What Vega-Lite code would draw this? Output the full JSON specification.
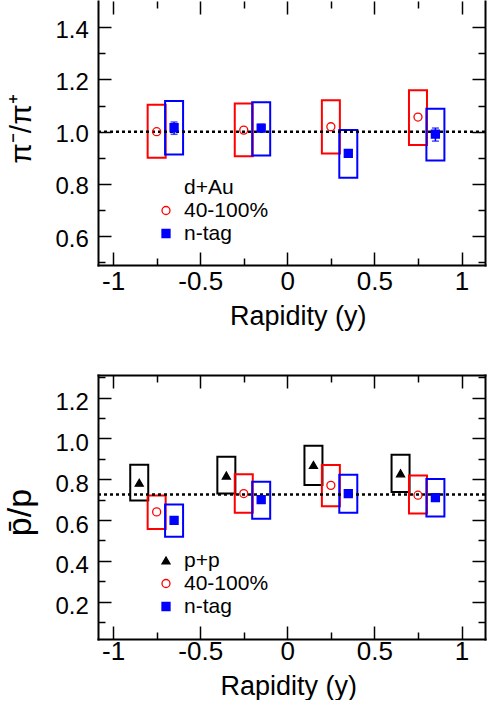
{
  "$schema": "https://vega.github.io/schema/vega-lite/v6.json",
  "padding": {"left": 3, "top": 0, "right": 0, "bottom": 0},
  "autosize": {"type": "pad"},
  "config": {
    "font": "Liberation Sans",
    "view": {"stroke": null},
    "axis": {
      "grid": false,
      "domainColor": "#000000",
      "domainWidth": 2,
      "domainCap": "square",
      "tickColor": "#000000",
      "tickWidth": 1.5,
      "labelColor": "#000000",
      "titleColor": "#000000",
      "titleFontWeight": "normal",
      "labelFlush": false,
      "labelOverlap": false
    },
    "legend": {
      "orient": "none", "labelFontSize": 21, "labelColor": "#000000", "labelFont": "Liberation Sans",
      "symbolSize": 64, "symbolStrokeWidth": 1.3, "labelOffset": 7.5, "rowPadding": 1, "padding": 0
    }
  },
  "datasets": {
    "pi": [
      {"series": "40-100%", "y": -0.75, "v": 1.000, "lo": 0.900, "hi": 1.103},
      {"series": "40-100%", "y": -0.25, "v": 1.006, "lo": 0.906, "hi": 1.108},
      {"series": "40-100%", "y": 0.25, "v": 1.019, "lo": 0.917, "hi": 1.120},
      {"series": "40-100%", "y": 0.75, "v": 1.056, "lo": 0.949, "hi": 1.159},
      {"series": "n-tag", "y": -0.65, "v": 1.015, "lo": 0.913, "hi": 1.117, "elo": 0.990, "ehi": 1.037},
      {"series": "n-tag", "y": -0.15, "v": 1.014, "lo": 0.909, "hi": 1.113, "elo": 1.000, "ehi": 1.028},
      {"series": "n-tag", "y": 0.35, "v": 0.917, "lo": 0.824, "hi": 1.006, "elo": 0.905, "ehi": 0.930},
      {"series": "n-tag", "y": 0.85, "v": 0.991, "lo": 0.890, "hi": 1.088, "elo": 0.964, "ehi": 1.014}
    ],
    "pbar": [
      {"series": "p+p", "y": -0.85, "v": 0.783, "lo": 0.696, "hi": 0.871},
      {"series": "p+p", "y": -0.35, "v": 0.818, "lo": 0.730, "hi": 0.910},
      {"series": "p+p", "y": 0.15, "v": 0.870, "lo": 0.772, "hi": 0.964},
      {"series": "p+p", "y": 0.65, "v": 0.829, "lo": 0.738, "hi": 0.920},
      {"series": "40-100%", "y": -0.75, "v": 0.640, "lo": 0.556, "hi": 0.720},
      {"series": "40-100%", "y": -0.25, "v": 0.730, "lo": 0.636, "hi": 0.824},
      {"series": "40-100%", "y": 0.25, "v": 0.770, "lo": 0.668, "hi": 0.870},
      {"series": "40-100%", "y": 0.75, "v": 0.722, "lo": 0.632, "hi": 0.818},
      {"series": "n-tag", "y": -0.65, "v": 0.598, "lo": 0.518, "hi": 0.676},
      {"series": "n-tag", "y": -0.15, "v": 0.700, "lo": 0.606, "hi": 0.788},
      {"series": "n-tag", "y": 0.35, "v": 0.730, "lo": 0.636, "hi": 0.822},
      {"series": "n-tag", "y": 0.85, "v": 0.710, "lo": 0.618, "hi": 0.801}
    ],
    "ref1": [{"ref": 1.0}],
    "ref2": [{"ref": 0.725}]
  },
  "resolve": {
    "scale": {"color": "independent", "stroke": "independent", "fill": "independent", "shape": "independent", "x": "independent", "y": "independent"},
    "legend": {"color": "independent", "stroke": "independent", "fill": "independent", "shape": "independent"}
  },
  "vconcat": [
    {
      "width": 387,
      "height": 264,
      "data": {"name": "pi"},
      "resolve": {"axis": {"x": "independent", "y": "independent"}},
      "layer": [
        {
          "mark": {"type": "bar", "width": 18, "filled": false, "strokeWidth": 2},
          "encoding": {
            "x": {"field": "y", "type": "quantitative", "scale": {"domain": [-1.058, 1.106], "nice": false, "zero": false},
              "axis": {"orient": "bottom", "title": "Rapidity (y)", "values": [-1, -0.75, -0.5, -0.25, 0, 0.25, 0.5, 0.75, 1],
                "labelExpr": "abs(datum.value*2 - round(datum.value*2)) < 0.01 ? '' + datum.value : ''",
                "tickSize": {"condition": {"test": "abs(datum.value*2 - round(datum.value*2)) < 0.01", "value": -13}, "value": -7},
                "labelFontSize": 26, "labelBaseline": "alphabetic", "labelPadding": 37.3,
                "titleFontSize": 27, "titleBaseline": "alphabetic", "titleX": 199.7, "titleY": 59.3}},
            "y": {"field": "lo", "type": "quantitative", "scale": {"domain": [0.49, 1.5], "nice": false, "zero": false},
              "axis": {"orient": "left", "title": "π⁻/π⁺", "values": [0.5, 0.6, 0.7, 0.8, 0.9, 1.0, 1.1, 1.2, 1.3, 1.4],
                "labelExpr": "round(datum.value*10) % 2 == 0 ? format(datum.value, '.1f') : ''",
                "tickSize": {"condition": {"test": "round(datum.value*10) % 2 == 0", "value": -13}, "value": -7},
                "labelFontSize": 24, "labelPadding": 22.7, "labelOffset": 3,
                "titleFontSize": 30, "titleBaseline": "alphabetic", "titleX": -68, "titleY": 127.5, "titleAlign": "center"}},
            "y2": {"field": "hi"},
            "color": {"field": "series", "type": "nominal",
              "scale": {"domain": ["40-100%", "n-tag"], "range": ["#ff0000", "#0000ff"]}, "legend": null}
          }
        },
        {
          "data": {"name": "ref1"},
          "mark": {"type": "rule", "strokeDash": [3, 3], "strokeWidth": 2.5, "color": "#000000"},
          "encoding": {
            "y": {"field": "ref", "type": "quantitative", "scale": {"domain": [0.49, 1.5], "nice": false, "zero": false}, "axis": null}
          }
        },
        {
          "transform": [{"filter": "datum.series === 'n-tag'"}],
          "mark": {"type": "errorbar", "ticks": {"size": 7}, "color": "#0000ff", "thickness": 1.5},
          "encoding": {
            "x": {"field": "y", "type": "quantitative", "scale": {"domain": [-1.058, 1.106], "nice": false, "zero": false}, "axis": null},
            "y": {"field": "elo", "type": "quantitative", "scale": {"domain": [0.49, 1.5], "nice": false, "zero": false}, "axis": null},
            "y2": {"field": "ehi"}
          }
        },
        {
          "mark": {"type": "point", "size": 64, "strokeWidth": 1.3, "opacity": 1},
          "encoding": {
            "x": {"field": "y", "type": "quantitative", "scale": {"domain": [-1.058, 1.106], "nice": false, "zero": false},
              "axis": {"orient": "top", "title": null, "labels": false, "domain": false, "values": [-1, -0.75, -0.5, -0.25, 0, 0.25, 0.5, 0.75, 1],
                "tickSize": {"condition": {"test": "abs(datum.value*2 - round(datum.value*2)) < 0.01", "value": -13}, "value": -7}}},
            "y": {"field": "v", "type": "quantitative", "scale": {"domain": [0.49, 1.5], "nice": false, "zero": false},
              "axis": {"orient": "right", "title": null, "labels": false, "values": [0.5, 0.6, 0.7, 0.8, 0.9, 1.0, 1.1, 1.2, 1.3, 1.4],
                "tickSize": {"condition": {"test": "round(datum.value*10) % 2 == 0", "value": -13}, "value": -7}}},
            "shape": {"field": "series", "type": "nominal",
              "scale": {"domain": ["d+Au", "40-100%", "n-tag"], "range": ["circle", "circle", "square"]},
              "legend": {"title": null, "legendX": 57.5, "legendY": 176}},
            "fill": {"field": "series", "type": "nominal",
              "scale": {"domain": ["d+Au", "40-100%", "n-tag"], "range": ["transparent", "transparent", "#0000ff"]},
              "legend": {"title": null, "legendX": 57.5, "legendY": 176}},
            "stroke": {"field": "series", "type": "nominal",
              "scale": {"domain": ["d+Au", "40-100%", "n-tag"], "range": ["transparent", "#ff0000", "#0000ff"]},
              "legend": {"title": null, "legendX": 57.5, "legendY": 176}}
          }
        }
      ]
    },
    {
      "width": 387,
      "height": 264,
      "data": {"name": "pbar"},
      "resolve": {"axis": {"x": "independent", "y": "independent"}},
      "layer": [
        {
          "mark": {"type": "bar", "width": 18, "filled": false, "strokeWidth": 2},
          "encoding": {
            "x": {"field": "y", "type": "quantitative", "scale": {"domain": [-1.058, 1.106], "nice": false, "zero": false},
              "axis": {"orient": "bottom", "title": "Rapidity (y)", "values": [-1, -0.75, -0.5, -0.25, 0, 0.25, 0.5, 0.75, 1],
                "labelExpr": "abs(datum.value*2 - round(datum.value*2)) < 0.01 ? '' + datum.value : ''",
                "tickSize": {"condition": {"test": "abs(datum.value*2 - round(datum.value*2)) < 0.01", "value": -13}, "value": -7},
                "labelFontSize": 26, "labelBaseline": "alphabetic", "labelPadding": 33.3,
                "titleFontSize": 27, "titleBaseline": "alphabetic", "titleX": 190.3, "titleY": 55.3}},
            "y": {"field": "lo", "type": "quantitative", "scale": {"domain": [0.017, 1.311], "nice": false, "zero": false},
              "axis": {"orient": "left", "title": "p̄/p", "values": [0.1, 0.2, 0.3, 0.4, 0.5, 0.6, 0.7, 0.8, 0.9, 1.0, 1.1, 1.2, 1.3],
                "labelExpr": "round(datum.value*10) % 2 == 0 ? format(datum.value, '.1f') : ''",
                "tickSize": {"condition": {"test": "round(datum.value*10) % 2 == 0", "value": -13}, "value": -7},
                "labelFontSize": 24, "labelPadding": 22.7, "labelOffset": 5,
                "titleFontSize": 34, "titleBaseline": "alphabetic", "titleX": -68, "titleY": 137, "titleAlign": "center"}},
            "y2": {"field": "hi"},
            "color": {"field": "series", "type": "nominal",
              "scale": {"domain": ["40-100%", "n-tag", "p+p"], "range": ["#ff0000", "#0000ff", "#000000"]}, "legend": null}
          }
        },
        {
          "data": {"name": "ref2"},
          "mark": {"type": "rule", "strokeDash": [3, 3], "strokeWidth": 2.5, "color": "#000000"},
          "encoding": {
            "y": {"field": "ref", "type": "quantitative", "scale": {"domain": [0.017, 1.311], "nice": false, "zero": false}, "axis": null}
          }
        },
        {
          "mark": {"type": "point", "size": 64, "strokeWidth": 1.3, "opacity": 1},
          "encoding": {
            "x": {"field": "y", "type": "quantitative", "scale": {"domain": [-1.058, 1.106], "nice": false, "zero": false},
              "axis": {"orient": "top", "title": null, "labels": false, "domain": true, "values": [-1, -0.75, -0.5, -0.25, 0, 0.25, 0.5, 0.75, 1],
                "tickSize": {"condition": {"test": "abs(datum.value*2 - round(datum.value*2)) < 0.01", "value": -13}, "value": -7}}},
            "y": {"field": "v", "type": "quantitative", "scale": {"domain": [0.017, 1.311], "nice": false, "zero": false},
              "axis": {"orient": "right", "title": null, "labels": false, "values": [0.1, 0.2, 0.3, 0.4, 0.5, 0.6, 0.7, 0.8, 0.9, 1.0, 1.1, 1.2, 1.3],
                "tickSize": {"condition": {"test": "round(datum.value*10) % 2 == 0", "value": -13}, "value": -7}}},
            "shape": {"field": "series", "type": "nominal",
              "scale": {"domain": ["p+p", "40-100%", "n-tag"], "range": ["triangle-up", "circle", "square"]},
              "legend": {"title": null, "legendX": 57.5, "legendY": 175}},
            "fill": {"field": "series", "type": "nominal",
              "scale": {"domain": ["p+p", "40-100%", "n-tag"], "range": ["#000000", "transparent", "#0000ff"]},
              "legend": {"title": null, "legendX": 57.5, "legendY": 175}},
            "stroke": {"field": "series", "type": "nominal",
              "scale": {"domain": ["p+p", "40-100%", "n-tag"], "range": ["#000000", "#ff0000", "#0000ff"]},
              "legend": {"title": null, "legendX": 57.5, "legendY": 175}}
          }
        }
      ]
    }
  ],
  "spacing": 110,
  "bounds": "flush"
}
